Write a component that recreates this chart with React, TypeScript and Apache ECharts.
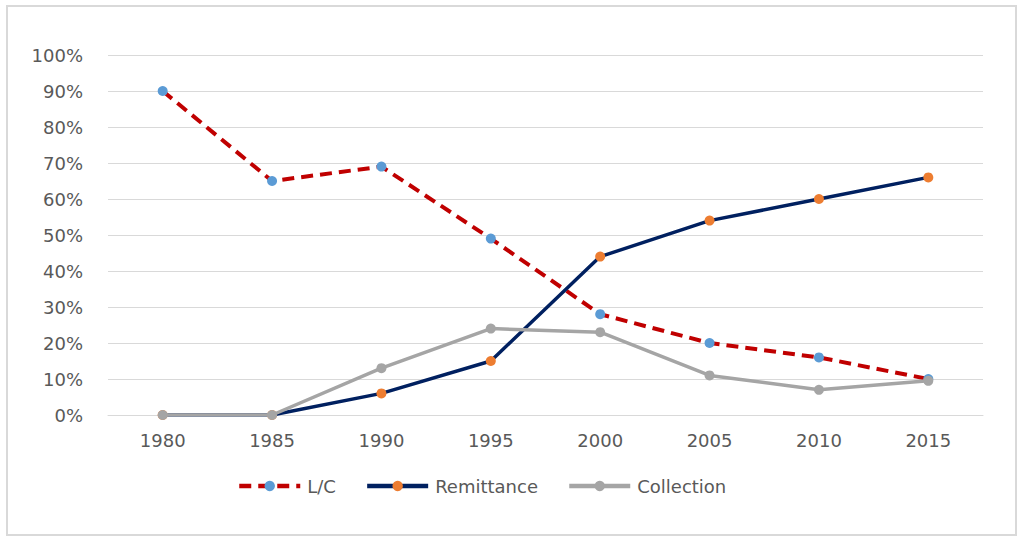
import React, { useEffect, useRef } from "react";
import * as echarts from "echarts";

const categories = ["1980", "1985", "1990", "1995", "2000", "2005", "2010", "2015"];
const lcValues = [90, 65, 69, 49, 28, 20, 16, 10];
const remittanceValues = [0, 0, 6, 15, 44, 54, 60, 66];
const collectionValues = [0, 0, 13, 24, 23, 11, 7, 9.5];
const yTicks = [0, 10, 20, 30, 40, 50, 60, 70, 80, 90, 100];

const FONT = "DejaVu Sans";
const TEXT = "#595959";

export default function App() {
  const ref = useRef<HTMLDivElement>(null);
  useEffect(() => {
    if (!ref.current) return;
    const chart = echarts.init(ref.current, undefined, { renderer: "svg" });
    chart.setOption({
      animation: false,
      backgroundColor: "#ffffff",
      textStyle: { fontFamily: FONT },
      graphic: [
        {
          type: "rect",
          shape: { x: 7, y: 6, width: 1009, height: 529 },
          style: { fill: "none", stroke: "#d9d9d9", lineWidth: 2 },
          silent: true,
        },
      ],
      grid: { left: 108, right: 35, top: 55, bottom: 122 },
      legend: {
        left: 232,
        top: 472,
        itemWidth: 61,
        itemHeight: 13,
        itemGap: 29,
        lineStyle: { width: 4.5 },
        textStyle: { color: TEXT, fontSize: 18, fontFamily: FONT, padding: [0, 0, 0, 2] },
        data: ["L/C", "Remittance", "Collection"],
      },
      xAxis: {
        type: "category",
        data: categories,
        boundaryGap: true,
        axisLine: { show: true, lineStyle: { color: "#d9d9d9", width: 1 } },
        axisTick: { show: false },
        axisLabel: { color: TEXT, fontSize: 18, fontFamily: FONT, margin: 16 },
        splitLine: { show: false },
      },
      yAxis: {
        type: "value",
        min: yTicks[0],
        max: yTicks[yTicks.length - 1],
        interval: 10,
        axisLine: { show: false },
        axisTick: { show: false },
        axisLabel: {
          color: TEXT,
          fontSize: 18,
          fontFamily: FONT,
          margin: 25,
          formatter: (v: number) => v + "%",
        },
        splitLine: { show: true, lineStyle: { color: "#d9d9d9", width: 1 } },
      },
      series: [
        {
          name: "L/C",
          type: "line",
          data: lcValues,
          symbol: "circle",
          symbolSize: 10,
          lineStyle: { color: "#c00000", width: 4, type: [12, 7] },
          itemStyle: { color: "#5b9bd5" },
          z: 2,
        },
        {
          name: "Remittance",
          type: "line",
          data: remittanceValues,
          symbol: "circle",
          symbolSize: 10,
          lineStyle: { color: "#002060", width: 3.5 },
          itemStyle: { color: "#ed7d31" },
          z: 3,
        },
        {
          name: "Collection",
          type: "line",
          data: collectionValues,
          symbol: "circle",
          symbolSize: 10,
          lineStyle: { color: "#a5a5a5", width: 3.5 },
          itemStyle: { color: "#a5a5a5" },
          z: 4,
        },
      ],
    });
    return () => chart.dispose();
  }, []);
  return (
    <div
      ref={ref}
      style={{ position: "fixed", left: 0, top: 0, width: 1018, height: 537 }}
    />
  );
}
